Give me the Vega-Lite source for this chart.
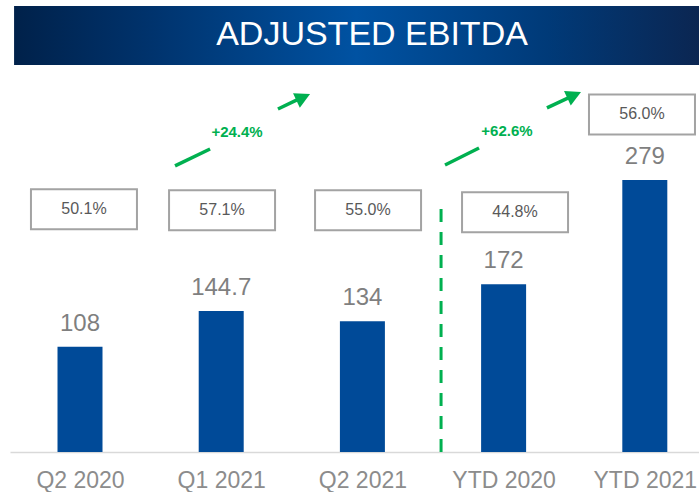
{
  "$schema": "https://vega.github.io/schema/vega-lite/v6.json",
  "width": 689,
  "height": 452,
  "autosize": {"type": "none"},
  "padding": {"left": 10, "top": 0, "right": 0, "bottom": 40},
  "background": "white",
  "config": {
    "view": {"stroke": null},
    "font": "Liberation Sans",
    "axisX": {
      "tickCount": 5,
      "labelExpr": "datum.value % 1 == 0 && datum.value >= 0 && datum.value <= 4 ? ['Q2 2020','Q1 2021','Q2 2021','YTD 2020','YTD 2021'][datum.value] : ''",
      "ticks": false,
      "grid": false,
      "domainColor": "#d9d9d9",
      "domainWidth": 1.5,
      "labelFontSize": 23,
      "labelColor": "#8c8c8c",
      "labelPadding": 17,
      "labelFlush": false,
      "labelOverlap": false
    },
    "axisY": {
      "ticks": false,
      "grid": false,
      "domain": false,
      "labels": false
    }
  },
  "datasets": {
    "bars": [
      {"period": "Q2 2020", "idx": 0, "ebitda": 108, "label": "108", "margin": "50.1%", "mx": 0.028, "my": 249},
      {"period": "Q1 2021", "idx": 1, "ebitda": 144.7, "label": "144.7", "margin": "57.1%", "mx": 1.006, "my": 248},
      {"period": "Q2 2021", "idx": 2, "ebitda": 134, "label": "134", "margin": "55.0%", "mx": 2.04, "my": 248},
      {"period": "YTD 2020", "idx": 3, "ebitda": 172, "label": "172", "margin": "44.8%", "mx": 3.081, "my": 246},
      {"period": "YTD 2021", "idx": 4, "ebitda": 279, "label": "279", "margin": "56.0%", "mx": 3.98, "my": 346.2}
    ],
    "banner": [
      {"x": -0.467, "x2": 4.3838, "y": 457.5, "y2": 397.0, "tx": 2.068, "ty": 427.5, "t": "ADJUSTED EBITDA"}
    ],
    "segs": [
      {"x": 0.673, "y": 293.4, "x2": 0.921, "y2": 310.8},
      {"x": 1.402, "y": 351.8, "x2": 1.544, "y2": 361.6},
      {"x": 2.585, "y": 294.4, "x2": 2.826, "y2": 311.8},
      {"x": 3.307, "y": 352.9, "x2": 3.47, "y2": 364.0}
    ],
    "heads": [
      {"x": 1.581, "y": 363.9},
      {"x": 3.5, "y": 366.0}
    ],
    "growth": [
      {"x": 1.112, "y": 328.2, "t": "+24.4%"},
      {"x": 3.024, "y": 329.3, "t": "+62.6%"}
    ],
    "divider": [
      {"x": 2.557, "y": 0, "y2": 256.4}
    ]
  },
  "layer": [
    {
      "data": {"name": "banner"},
      "mark": {
        "type": "rect",
        "fill": {
          "gradient": "linear",
          "x1": 0, "x2": 1, "y1": 0, "y2": 0,
          "stops": [
            {"offset": 0, "color": "#00214a"},
            {"offset": 0.2, "color": "#00336d"},
            {"offset": 0.5, "color": "#0052a2"},
            {"offset": 0.78, "color": "#003a78"},
            {"offset": 1, "color": "#0b2652"}
          ]
        }
      },
      "encoding": {
        "x": {"field": "x", "type": "quantitative", "title": null, "scale": {"domain": [-0.4958, 4.3838], "nice": false, "zero": false, "padding": 0}},
        "x2": {"field": "x2"},
        "y": {"field": "y", "type": "quantitative", "title": null, "scale": {"domain": [0, 463.6], "nice": false, "zero": false, "padding": 0}},
        "y2": {"field": "y2"}
      }
    },
    {
      "data": {"name": "banner"},
      "mark": {"type": "text", "align": "center", "baseline": "middle", "fontSize": 34, "fill": "white"},
      "encoding": {
        "x": {"field": "tx", "type": "quantitative", "title": null},
        "y": {"field": "ty", "type": "quantitative", "title": null},
        "text": {"field": "t"}
      }
    },
    {
      "data": {"name": "bars"},
      "mark": {"type": "bar", "orient": "vertical", "width": 45, "color": "#004a98"},
      "encoding": {
        "x": {"field": "idx", "type": "quantitative", "title": null},
        "y": {"field": "ebitda", "type": "quantitative", "title": null}
      }
    },
    {
      "data": {"name": "bars"},
      "mark": {"type": "text", "align": "center", "baseline": "alphabetic", "dy": -16, "fontSize": 24, "fill": "#7f7f7f"},
      "encoding": {
        "x": {"field": "idx", "type": "quantitative", "title": null},
        "y": {"field": "ebitda", "type": "quantitative", "title": null},
        "text": {"field": "label"}
      }
    },
    {
      "data": {"name": "bars"},
      "mark": {"type": "point", "shape": "M-1,-0.377L1,-0.377L1,0.377L-1,0.377Z", "size": 11236, "fill": "white", "fillOpacity": 1, "stroke": "#a3a3a3", "strokeWidth": 2, "opacity": 1},
      "encoding": {
        "x": {"field": "mx", "type": "quantitative", "title": null},
        "y": {"field": "my", "type": "quantitative", "title": null}
      }
    },
    {
      "data": {"name": "bars"},
      "mark": {"type": "text", "align": "center", "baseline": "middle", "fontSize": 16, "fill": "#595959"},
      "encoding": {
        "x": {"field": "mx", "type": "quantitative", "title": null},
        "y": {"field": "my", "type": "quantitative", "title": null},
        "text": {"field": "margin"}
      }
    },
    {
      "data": {"name": "divider"},
      "mark": {"type": "rule", "color": "#00b050", "strokeWidth": 3, "strokeDash": [13, 10]},
      "encoding": {
        "x": {"field": "x", "type": "quantitative", "title": null},
        "y": {"field": "y", "type": "quantitative", "title": null},
        "y2": {"field": "y2"}
      }
    },
    {
      "data": {"name": "segs"},
      "mark": {"type": "rule", "color": "#00b050", "strokeWidth": 3.5},
      "encoding": {
        "x": {"field": "x", "type": "quantitative", "title": null},
        "y": {"field": "y", "type": "quantitative", "title": null},
        "x2": {"field": "x2"},
        "y2": {"field": "y2"}
      }
    },
    {
      "data": {"name": "heads"},
      "mark": {"type": "point", "shape": "M-0.94,-1L0.94,0L-0.94,1Z", "size": 256, "filled": true, "color": "#00b050", "opacity": 1, "angle": -25},
      "encoding": {
        "x": {"field": "x", "type": "quantitative", "title": null},
        "y": {"field": "y", "type": "quantitative", "title": null}
      }
    },
    {
      "data": {"name": "growth"},
      "mark": {"type": "text", "align": "center", "baseline": "middle", "fontSize": 15, "fontWeight": "bold", "fill": "#00b050"},
      "encoding": {
        "x": {"field": "x", "type": "quantitative", "title": null},
        "y": {"field": "y", "type": "quantitative", "title": null},
        "text": {"field": "t"}
      }
    }
  ]
}
